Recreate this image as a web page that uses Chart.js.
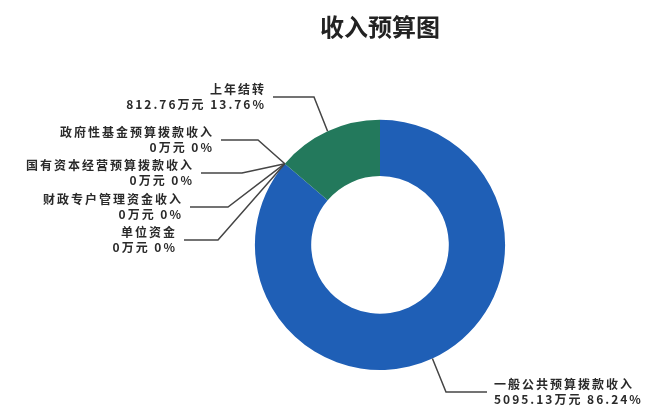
<!DOCTYPE html>
<html>
<head>
<meta charset="utf-8">
<script src="https://cdn.jsdelivr.net/npm/chart.js@4/dist/chart.umd.min.js"></script>
<style>
    html, body { margin: 0; padding: 0; background: #fff; }
    #wrap { width: 646px; height: 408px; }
</style>
</head>
<body>
<div id="wrap"><canvas id="incomeChart"></canvas></div>
<script>
const categories = ['一般公共预算拨款收入', '单位资金', '财政专户管理资金收入', '国有资本经营预算拨款收入', '政府性基金预算拨款收入', '上年结转'];
const amounts = [5095.13, 0, 0, 0, 0, 812.76];
const colors = ['#1f5fb6', '#1f5fb6', '#1f5fb6', '#1f5fb6', '#1f5fb6', '#23795c'];

// where each callout sits: text edge x, leader y, elbow x
const calloutLayout = {
    '上年结转':            { side: 'left',  textX: 266, lineY: 97,  elbowX: 314 },
    '政府性基金预算拨款收入': { side: 'left',  textX: 214, lineY: 140, elbowX: 258 },
    '国有资本经营预算拨款收入': { side: 'left',  textX: 194, lineY: 173, elbowX: 242 },
    '财政专户管理资金收入':   { side: 'left',  textX: 183, lineY: 207, elbowX: 228 },
    '单位资金':            { side: 'left',  textX: 177, lineY: 240, elbowX: 218 },
    '一般公共预算拨款收入':   { side: 'right', textX: 494, lineY: 392, elbowX: 446 }
};

const calloutPlugin = {
    id: 'callouts',
    afterDatasetsDraw(chart) {
        const ctx = chart.ctx;
        const meta = chart.getDatasetMeta(0);
        const total = amounts.reduce((a, b) => a + b, 0);
        ctx.save();
        ctx.font = 'bold 12px "Noto Sans CJK SC"';
        ctx.letterSpacing = '2px';
        ctx.textBaseline = 'middle';
        meta.data.forEach((arc, i) => {
            const name = categories[i];
            const lay = calloutLayout[name];
            if (!lay) return;
            const p = arc.getProps(['x', 'y', 'startAngle', 'endAngle', 'outerRadius'], true);
            const mid = (p.startAngle + p.endAngle) / 2;
            const ax = p.x + Math.cos(mid) * p.outerRadius;
            const ay = p.y + Math.sin(mid) * p.outerRadius;
            const startX = lay.side === 'left' ? lay.textX + 7 : lay.textX - 7;

            ctx.strokeStyle = '#454545';
            ctx.lineWidth = 1.5;
            ctx.beginPath();
            ctx.moveTo(ax, ay);
            ctx.lineTo(lay.elbowX, lay.lineY);
            ctx.lineTo(startX, lay.lineY);
            ctx.stroke();

            const pct = parseFloat((amounts[i] / total * 100).toFixed(2));
            const line2 = amounts[i] + '万元 ' + pct + '%';
            ctx.fillStyle = '#2a2a2a';
            // right-aligned text with letter spacing leaves a trailing gap, so measure instead
            const w1 = ctx.measureText(name).width;
            const w2 = ctx.measureText(line2).width;
            ctx.textAlign = 'left';
            const x1 = lay.side === 'left' ? lay.textX - w1 : lay.textX;
            const x2 = lay.side === 'left' ? lay.textX - w2 : lay.textX;
            ctx.fillText(name, x1, lay.lineY - 8);
            ctx.fillText(line2, x2, lay.lineY + 7);
        });
        ctx.restore();
    }
};

new Chart(document.getElementById('incomeChart').getContext('2d'), {
    type: 'doughnut',
    data: {
        labels: categories,
        datasets: [{
            data: amounts,
            backgroundColor: colors,
            borderWidth: 0
        }]
    },
    options: {
        responsive: true,
        maintainAspectRatio: false,
        animation: false,
        cutout: '55%',
        layout: {
            padding: { left: 114, right: 0, top: 0, bottom: 38 }
        },
        plugins: {
            legend: { display: false },
            tooltip: { enabled: false },
            title: {
                display: true,
                text: '收入预算图',
                color: '#222',
                font: { size: 24, weight: 'bold', family: '"Noto Sans CJK SC"' },
                padding: { top: 12, bottom: 79 }
            }
        }
    },
    plugins: [calloutPlugin]
});
</script>
</body>
</html>
